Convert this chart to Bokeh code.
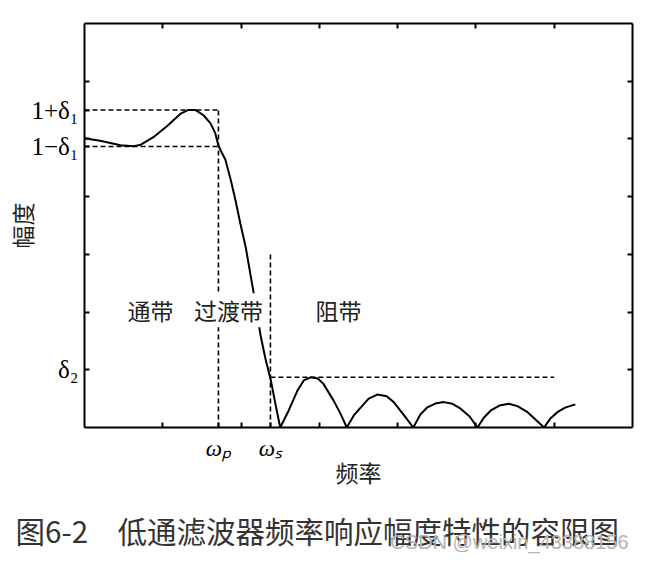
from bokeh.plotting import figure
from bokeh.models import Range1d, FixedTicker, LinearAxis, Label
from bokeh.embed import file_html
from bokeh.resources import INLINE

# magnitude response (x: frequency, y: magnitude)
freq = [0.00, 0.20, 0.33, 0.46, 0.63, 0.72, 0.88, 1.06, 1.23, 1.32, 1.42, 1.52,
        1.61, 1.67, 1.71, 1.74, 1.80, 1.87, 1.93, 1.99, 2.06, 2.12, 2.18, 2.25,
        2.31, 2.38, 2.44, 2.50,
        2.61, 2.72, 2.80, 2.89, 2.98, 3.05, 3.18, 3.27, 3.35,
        3.44, 3.53, 3.63, 3.74, 3.86, 3.95, 4.10, 4.20,
        4.29, 4.38, 4.48, 4.59, 4.70, 4.80, 4.92, 5.02,
        5.10, 5.19, 5.30, 5.42, 5.53, 5.66, 5.76, 5.87,
        5.95, 6.04, 6.14, 6.27]
mag = [5.01, 4.97, 4.93, 4.89, 4.875, 4.90, 5.03, 5.23, 5.44, 5.50, 5.50, 5.41,
       5.27, 5.10, 4.89, 4.80, 4.64, 4.28, 3.93, 3.54, 3.12, 2.65, 2.18, 1.59,
       1.20, 0.82, 0.40, 0.00,
       0.30, 0.64, 0.815, 0.87, 0.85, 0.76, 0.47, 0.24, 0.00,
       0.21, 0.35, 0.50, 0.57, 0.54, 0.44, 0.18, 0.00,
       0.225, 0.35, 0.415, 0.44, 0.41, 0.33, 0.19, 0.00,
       0.17, 0.295, 0.38, 0.41, 0.37, 0.265, 0.14, 0.00,
       0.155, 0.265, 0.345, 0.40]

# tolerance levels
upper_pass = 5.50     # 1 + delta1
lower_pass = 4.87     # 1 - delta1
stop_level = 0.87     # delta2
stop_tick = 1.0
omega_p = 1.711
omega_s = 2.375
omega_s_top = 3.02
stop_end = 6.0

plain_x_ticks = [1, 2, 3, 4, 5, 6]
plain_y_ticks = [2, 3, 4, 5, 6]
all_y_ticks = [1, 2, 3, 4, 5, 6]

p = figure(width=645, height=562, output_backend="svg", toolbar_location=None,
           x_range=Range1d(0, 7), y_range=Range1d(0, 7),
           min_border_left=84, min_border_right=13, min_border_top=23,
           min_border_bottom=135, x_axis_type=None, y_axis_type=None)
p.outline_line_color = None
p.grid.visible = False
p.background_fill_color = "white"
p.border_fill_color = "white"

serif = "Liberation Serif"
cjk = "Noto Sans CJK SC"

def style_axis(ax):
    ax.axis_line_color = "black"
    ax.axis_line_width = 2
    ax.major_tick_line_color = "black"
    ax.major_tick_line_width = 2
    ax.major_tick_in = 5
    ax.major_tick_out = 0
    ax.minor_tick_line_color = "black"
    ax.minor_tick_line_width = 2
    ax.minor_tick_in = 5
    ax.minor_tick_out = 0
    ax.major_label_text_color = "black"
    ax.axis_label_text_font = cjk
    ax.axis_label_text_font_style = "normal"
    ax.axis_label_text_font_size = "23px"
    ax.axis_label_text_color = "#222"

# bottom axis: labelled ticks at the band edges, plain ticks as minor ticks
bx = LinearAxis(ticker=FixedTicker(ticks=[omega_p, omega_s], minor_ticks=plain_x_ticks))
style_axis(bx)
bx.major_label_overrides = {omega_p: "ωₚ", omega_s: "ωₛ"}
bx.major_label_text_font = serif
bx.major_label_text_font_size = "23px"
bx.major_label_text_font_style = "italic"
bx.major_label_standoff = 8
bx.axis_label = "频率"
bx.axis_label_standoff = -9
p.add_layout(bx, "below")

# left axis
ly = LinearAxis(ticker=FixedTicker(ticks=[stop_tick, lower_pass, upper_pass],
                                   minor_ticks=plain_y_ticks))
style_axis(ly)
ly.major_label_overrides = {stop_tick: "δ₂", lower_pass: "1−δ₁", upper_pass: "1+δ₁"}
ly.major_label_text_font = serif
ly.major_label_text_font_size = "25px"
ly.major_label_standoff = 6
ly.axis_label = "幅度"
ly.axis_label_standoff = -11
p.add_layout(ly, "left")

# top / right mirror axes (ticks only)
tx = LinearAxis(ticker=FixedTicker(ticks=[], minor_ticks=plain_x_ticks))
style_axis(tx)
p.add_layout(tx, "above")

ry = LinearAxis(ticker=FixedTicker(ticks=[], minor_ticks=all_y_ticks))
style_axis(ry)
p.add_layout(ry, "right")

dash = dict(line_color="black", line_width=1.6, line_dash="5 3")
p.line([0, omega_p], [upper_pass, upper_pass], **dash)
p.line([0, omega_p], [lower_pass, lower_pass], **dash)
p.line([omega_p, omega_p], [0, upper_pass], **dash)
p.line([omega_s, omega_s], [0, omega_s_top], **dash)
p.line([omega_s, stop_end], [stop_level, stop_level], **dash)

p.line(freq, mag, line_color="black", line_width=2)

band_y = 2.03
for txt, xc in [("通带", 0.843), ("过渡带", 1.84), ("阻带", 3.244)]:
    p.add_layout(Label(x=xc, y=band_y, text=txt, text_font=cjk, text_font_size="23px",
                       text_align="center", text_baseline="middle", text_color="#222",
                       background_fill_color="white"))

# caption and watermark, placed in the bottom panel so they are not clipped to the frame
caption = Label(x=-0.88, y=-1.78, text="图6-2\u3000低通滤波器频率响应幅度特性的容限图",
                text_font=cjk, text_font_size="29.5px", text_align="left",
                text_baseline="middle", text_color="#333")
p.add_layout(caption, "below")

mark = Label(x=6.95, y=-1.98, text="CSDN @weixin_43388156", text_font="Liberation Sans",
             text_font_size="20px", text_align="right", text_baseline="middle",
             text_color="#b4b4b4")
p.add_layout(mark, "below")

open("out.html", "w").write(file_html(p, INLINE))
